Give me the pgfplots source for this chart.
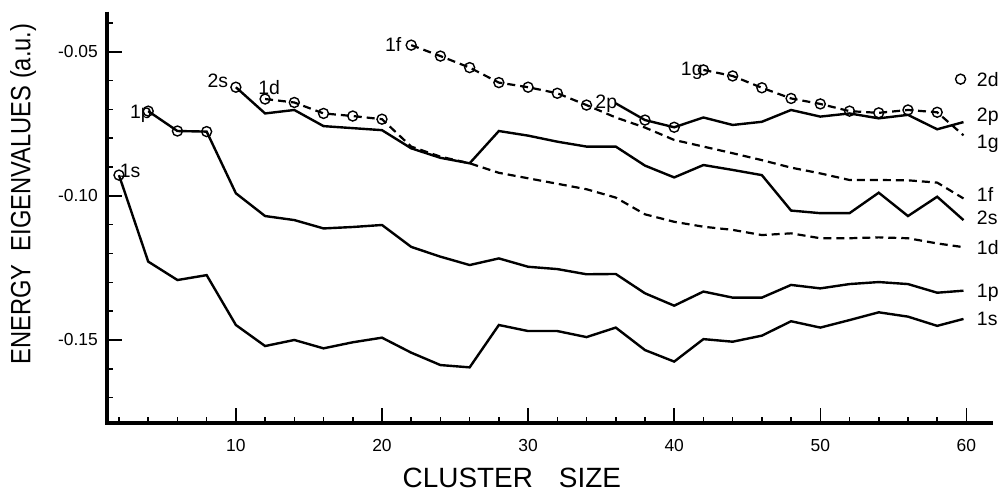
\documentclass[border=0pt]{standalone}
\usepackage{fontspec}
\setmainfont{Liberation Sans}
\usepackage{pgfplots}
\pgfplotsset{compat=1.18}
\tikzset{
  lab/.style={font=\fontsize{19.5}{22}\selectfont, inner sep=0pt},
}
\pgfplotsset{
  sol/.style={black, solid, line width=2.4bp, mark=none},
  dsh/.style={black, line width=2.2bp, dash pattern=on 8bp off 5bp, mark=none},
  circ/.style={only marks, mark=o, mark size=5bp, mark options={solid, line width=1.4bp, draw=black, fill=none}},
}
\begin{document}
\begin{tikzpicture}
\begin{axis}[
  scale only axis, width=885.4bp, height=411bp,
  xmin=1.2, xmax=61.8, ymin=-0.1787, ymax=-0.0361,
  axis x line=bottom, axis y line=left,
  axis line style={-, line width=4bp, black},
  clip=false,
  tick align=inside,
  xtick={10,20,30,40,50,60}, xticklabels={10,20,30,40,50,60},
  minor xtick={2,4,6,8,12,14,16,18,22,24,26,28,32,34,36,38,42,44,46,48,52,54,56,58},
  ytick={-0.15,-0.10,-0.05}, yticklabels={-0.15,-0.10,-0.05},
  minor ytick={-0.17,-0.16,-0.14,-0.13,-0.12,-0.11,-0.09,-0.08,-0.07,-0.06,-0.04},
  major tick length=15bp, minor tick length=6bp,
  tick style={line width=1.6bp, black},
  tick label style={font=\fontsize{17.5}{20}\selectfont},
  xticklabel style={yshift=-13bp},
  yticklabel style={xshift=-6bp},
]
\coordinate (ll) at (rel axis cs:0,0);
\coordinate (ur) at (rel axis cs:1,1);
\draw[line width=4bp, black] (rel axis cs:0,1) -- (rel axis cs:0,0) -- (rel axis cs:1,0);

% 1s
\addplot[sol] coordinates {(2,-0.0928)(4,-0.1228)(6,-0.1292)(8,-0.1275)(10,-0.1448)(12,-0.1521)(14,-0.1500)(16,-0.1529)(18,-0.1508)(20,-0.1492)(22,-0.1544)(24,-0.1587)(26,-0.1595)(28,-0.1448)(30,-0.1469)(32,-0.1469)(34,-0.1490)(36,-0.1457)(38,-0.1535)(40,-0.1575)(42,-0.1497)(44,-0.1506)(46,-0.1485)(48,-0.1435)(50,-0.1457)(52,-0.1431)(54,-0.1404)(56,-0.1419)(58,-0.1451)(59.8,-0.1427)};
\addplot[circ] coordinates {(2,-0.0928)};
% 1p
\addplot[sol] coordinates {(4,-0.0706)(6,-0.0775)(8,-0.0777)(10,-0.0991)(12,-0.1070)(14,-0.1084)(16,-0.1113)(18,-0.1108)(20,-0.1101)(22,-0.1177)(24,-0.1211)(26,-0.1240)(28,-0.1217)(30,-0.1246)(32,-0.1254)(34,-0.1272)(36,-0.1271)(38,-0.1338)(40,-0.1381)(42,-0.1332)(44,-0.1353)(46,-0.1353)(48,-0.1309)(50,-0.1321)(52,-0.1306)(54,-0.1299)(56,-0.1306)(58,-0.1336)(59.8,-0.1329)};
\addplot[circ] coordinates {(4,-0.0706)(6,-0.0775)(8,-0.0777)};
% 2s
\addplot[sol] coordinates {(10,-0.0623)(12,-0.0714)(14,-0.0702)(16,-0.0758)(18,-0.0765)(20,-0.0772)(22,-0.0835)(24,-0.0868)(26,-0.0887)(28,-0.0775)(30,-0.0791)(32,-0.0812)(34,-0.0829)(36,-0.0829)(38,-0.0895)(40,-0.0936)(42,-0.0893)(44,-0.0910)(46,-0.0928)(48,-0.1051)(50,-0.1060)(52,-0.1060)(54,-0.0989)(56,-0.1070)(58,-0.1003)(59.8,-0.1084)};
\addplot[circ] coordinates {(10,-0.0623)};
% 1d
\addplot[dsh] coordinates {(12,-0.0664)(14,-0.0676)(16,-0.0714)(18,-0.0723)(20,-0.0734)(22,-0.0829)(24,-0.0864)(26,-0.0887)(28,-0.0920)(30,-0.0939)(32,-0.0958)(34,-0.0977)(36,-0.1006)(38,-0.1064)(40,-0.1090)(42,-0.1107)(44,-0.1118)(46,-0.1136)(48,-0.1130)(50,-0.1147)(52,-0.1147)(54,-0.1144)(56,-0.1147)(58,-0.1165)(59.8,-0.1178)};
\addplot[circ] coordinates {(12,-0.0664)(14,-0.0676)(16,-0.0714)(18,-0.0723)(20,-0.0734)};
% 1f
\addplot[dsh] coordinates {(22,-0.0477)(24,-0.0515)(26,-0.0555)(28,-0.0607)(30,-0.0623)(32,-0.0644)(34,-0.0685)(36,-0.0728)(38,-0.0763)(40,-0.0806)(42,-0.0829)(44,-0.0852)(46,-0.0876)(48,-0.0902)(50,-0.0922)(52,-0.0945)(54,-0.0945)(56,-0.0946)(58,-0.0954)(59.8,-0.1009)};
\addplot[circ] coordinates {(22,-0.0477)(24,-0.0515)(26,-0.0555)(28,-0.0607)(30,-0.0623)(32,-0.0644)(34,-0.0685)};
% 2p
\addplot[sol] coordinates {(36,-0.0679)(38,-0.0737)(40,-0.0762)(42,-0.0728)(44,-0.0754)(46,-0.0743)(48,-0.0702)(50,-0.0725)(52,-0.0714)(54,-0.0731)(56,-0.0719)(58,-0.0769)(59.8,-0.0744)};
\addplot[circ] coordinates {(38,-0.0737)(40,-0.0762)};
% 1g
\addplot[dsh] coordinates {(42,-0.0563)(44,-0.0584)(46,-0.0625)(48,-0.0662)(50,-0.0681)(52,-0.0706)(54,-0.0712)(56,-0.0702)(58,-0.0710)(59.8,-0.0790)};
\addplot[circ] coordinates {(42,-0.0563)(44,-0.0584)(46,-0.0625)(48,-0.0662)(50,-0.0681)(52,-0.0706)(54,-0.0712)(56,-0.0702)(58,-0.0710)};
% 2d
\addplot[circ] coordinates {(59.6,-0.0595)};

% curve labels
\node[lab, anchor=base west] at (axis cs:2.05,-0.0938) {1s};
\node[lab, anchor=base west] at (axis cs:2.75,-0.0730) {1p};
\node[lab, anchor=base west] at (axis cs:8.05,-0.0623) {2s};
\node[lab, anchor=base west] at (axis cs:11.52,-0.0648) {1d};
\node[lab, anchor=base west] at (axis cs:20.20,-0.0500) {1f};
\node[lab, anchor=base west] at (axis cs:34.60,-0.0696) {2p};
\node[lab, anchor=base west] at (axis cs:40.45,-0.0581) {1g};

\node[lab, anchor=base west] at (axis cs:60.71,-0.0621) {2d};
\node[lab, anchor=base west] at (axis cs:60.71,-0.0743) {2p};
\node[lab, anchor=base west] at (axis cs:60.71,-0.0834) {1g};
\node[lab, anchor=base west] at (axis cs:60.71,-0.1020) {1f};
\node[lab, anchor=base west] at (axis cs:60.71,-0.1101) {2s};
\node[lab, anchor=base west] at (axis cs:60.71,-0.1205) {1d};
\node[lab, anchor=base west] at (axis cs:60.71,-0.1352) {1p};
\node[lab, anchor=base west] at (axis cs:60.71,-0.1451) {1s};

% axis titles
\node[rotate=90, inner sep=0pt, font=\fontsize{28}{30}\selectfont] at (rel axis cs:-0.0949,0.5565) {\scalebox{0.85}[1]{ENERGY\ \ EIGENVALUES (a.u.)}};
\node[anchor=base, inner sep=0pt, font=\fontsize{28}{30}\selectfont] at (rel axis cs:0.4569,-0.1575) {CLUSTER\hspace{26bp}SIZE};
\end{axis}
\pgfresetboundingbox
\path ([shift={(-107.3bp,-70.3bp)}]ll) rectangle ([shift={(10.3bp,11.7bp)}]ur);
\end{tikzpicture}
\end{document}
